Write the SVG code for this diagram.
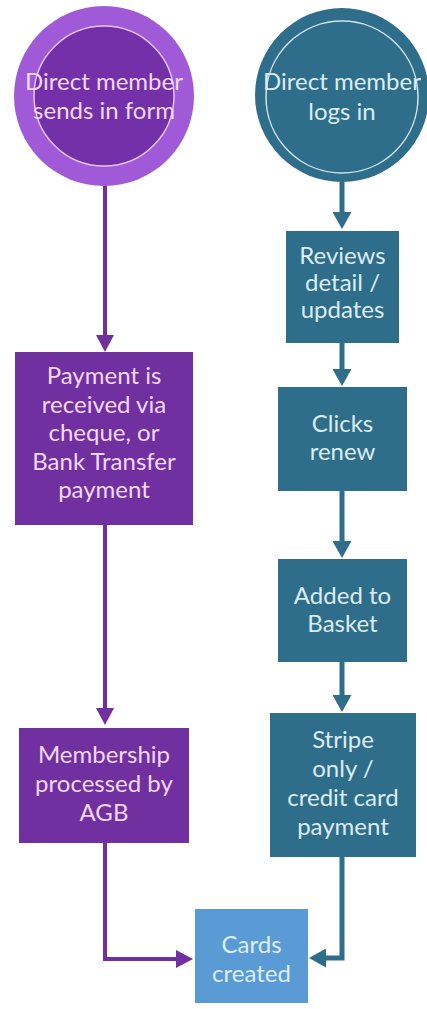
<svg xmlns="http://www.w3.org/2000/svg" width="427" height="1009" viewBox="0 0 427 1009">
<style>
text{font-family:"Lato","Liberation Sans",sans-serif;font-size:24px;text-anchor:middle}
.pt{fill:#f2d9fa}
.tt{fill:#dcecf3}
.ct{fill:#dbeefa}
.pbox{fill:#7030a0}
.tbox{fill:#2e6e8a}
.pc{fill:none;stroke:#7030a0;stroke-width:4}
.tc{fill:none;stroke:#2e6e8a;stroke-width:5}
</style>
<defs>
<marker id="ap" markerUnits="userSpaceOnUse" markerWidth="17" markerHeight="18" refX="6" refY="9" orient="auto">
<path d="M0,0 L17,9 L0,18 z" fill="#7030a0"/>
</marker>
<marker id="at" markerUnits="userSpaceOnUse" markerWidth="17" markerHeight="19" refX="6" refY="9.5" orient="auto">
<path d="M0,0 L17,9.5 L0,19 z" fill="#2e6e8a"/>
</marker>
</defs>
<rect width="427" height="1009" fill="#ffffff"/>
<g id="connectors">
<path class="pc" d="M105,185 L105,341" marker-end="url(#ap)"/>
<path class="pc" d="M105,525 L105,714" marker-end="url(#ap)"/>
<path class="pc" d="M105,843 L105,959 L182,959" marker-end="url(#ap)"/>
<path class="tc" d="M342,182 L342,218" marker-end="url(#at)"/>
<path class="tc" d="M342,343 L342,375" marker-end="url(#at)"/>
<path class="tc" d="M342,491 L342,547" marker-end="url(#at)"/>
<path class="tc" d="M342,662 L342,701" marker-end="url(#at)"/>
<path class="tc" d="M342,857 L342,958 L320,958" marker-end="url(#at)"/>
</g>
<g id="start-form">
<circle cx="104" cy="96" r="90" fill="#a05ad8"/>
<circle cx="104" cy="96" r="70" fill="#7430a8" stroke="#e6c4f2" stroke-width="1.5"/>
<text class="pt" x="104" y="90">Direct member</text>
<text class="pt" x="104" y="119">sends in form</text>
</g>
<g id="start-login">
<circle cx="342" cy="95" r="87" fill="#2e6e8a"/>
<circle cx="342" cy="97" r="76" fill="none" stroke="#cfe2ea" stroke-width="1.5"/>
<text class="tt" x="342" y="90">Direct member</text>
<text class="tt" x="342" y="120">logs in</text>
</g>
<g id="payment-received">
<rect class="pbox" x="15" y="352" width="178" height="173"/>
<text class="pt" x="104" y="384">Payment is</text>
<text class="pt" x="104" y="413">received via</text>
<text class="pt" x="104" y="441">cheque, or</text>
<text class="pt" x="104" y="470">Bank Transfer</text>
<text class="pt" x="104" y="498">payment</text>
</g>
<g id="membership-processed">
<rect class="pbox" x="19" y="728" width="170" height="115"/>
<text class="pt" x="104" y="763">Membership</text>
<text class="pt" x="104" y="792">processed by</text>
<text class="pt" x="104" y="821">AGB</text>
</g>
<g id="reviews">
<rect class="tbox" x="286" y="231" width="113" height="112"/>
<text class="tt" x="342.5" y="264">Reviews</text>
<text class="tt" x="342.5" y="291">detail /</text>
<text class="tt" x="342.5" y="318">updates</text>
</g>
<g id="clicks-renew">
<rect class="tbox" x="278" y="387" width="129" height="104"/>
<text class="tt" x="342.5" y="432">Clicks</text>
<text class="tt" x="342.5" y="460">renew</text>
</g>
<g id="added-basket">
<rect class="tbox" x="278" y="559" width="129" height="103"/>
<text class="tt" x="342.5" y="604">Added to</text>
<text class="tt" x="342.5" y="632">Basket</text>
</g>
<g id="stripe-payment">
<rect class="tbox" x="270" y="713" width="146" height="144"/>
<text class="tt" x="343" y="748">Stripe</text>
<text class="tt" x="343" y="777">only /</text>
<text class="tt" x="343" y="806">credit card</text>
<text class="tt" x="343" y="835">payment</text>
</g>
<g id="cards-created">
<rect x="195" y="909" width="113" height="94" fill="#5b9bd5"/>
<text class="ct" x="251.5" y="953">Cards</text>
<text class="ct" x="251.5" y="982">created</text>
</g>
</svg>
